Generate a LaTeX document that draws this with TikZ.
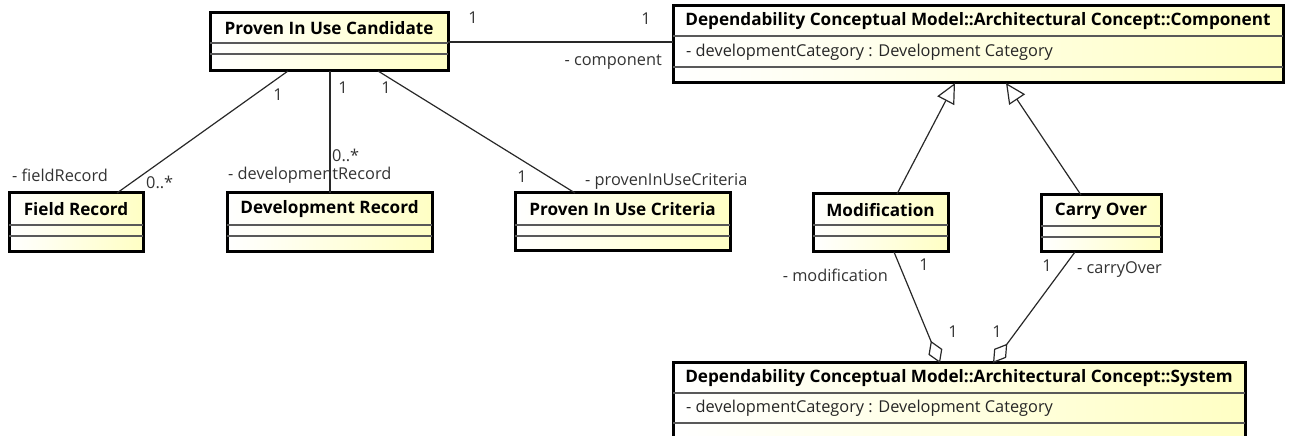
\documentclass[tikz,border=0pt]{standalone}
\usepackage{fontspec}
\setmainfont{Open Sans}
\usetikzlibrary{arrows.meta,calc}

\definecolor{umlyellow}{RGB}{255,255,196}
\definecolor{umlline}{RGB}{40,40,40}
\newcommand{\umltitle}{\fontsize{17.2}{20}\selectfont\bfseries}
\newcommand{\umllabel}{\fontsize{16.4}{19}\selectfont}

\tikzset{
  classbox/.style={draw=black, line width=3bp, left color=white, right color=umlyellow,
    anchor=north west, inner sep=0pt, outer sep=0pt},
  classname/.style={font=\umltitle, text=black, inner sep=0pt},
  attribute/.style={font=\umllabel, text=black!85, anchor=west, inner sep=0pt},
  compartment/.style={draw=black!65, line width=1.5bp},
  assoc/.style={draw=umlline, line width=1.2bp},
  generalize/.style={assoc, -{Triangle[length=20bp, width=19bp, fill=white]}},
  aggregate/.style={assoc, -{Diamond[length=24bp, width=15bp, fill=white]}},
  role/.style={font=\umllabel, text=black!80, inner sep=0pt},
}

\begin{document}
\begin{tikzpicture}[x=1bp, y=-1bp]
  \useasboundingbox (0,0) rectangle (1290,436);

  % classes
  \node[classbox, minimum width=238bp, minimum height=58bp] (candidate) at (210,13) {};
  \node[classbox, minimum width=134bp, minimum height=59bp] (fieldrec) at (9,193) {};
  \node[classbox, minimum width=205bp, minimum height=59bp] (devrec) at (227,193) {};
  \node[classbox, minimum width=215bp, minimum height=58bp] (criteria) at (515,193) {};
  \node[classbox, minimum width=610bp, minimum height=77bp] (component) at (673,6) {};
  \node[classbox, minimum width=135bp, minimum height=58bp] (modification) at (813,194) {};
  \node[classbox, minimum width=120bp, minimum height=57bp] (carryover) at (1041,195) {};
  \node[classbox, minimum width=572bp, minimum height=77bp] (system) at (673,363) {};

  \node[classname] (candidatename) at ($(candidate.north)+(0,15)$) {Proven In Use Candidate};
  \node[classname] (fieldrecname) at ($(fieldrec.north)+(0,16)$) {Field Record};
  \node[classname] (devrecname) at ($(devrec.north)+(0,16)$) {Development Record};
  \node[classname] (criterianame) at ($(criteria.north)+(0,16)$) {Proven In Use Criteria};
  \node[classname] (componentname) at ($(component.north)+(0,15)$) {Dependability Conceptual Model::Architectural Concept::Component};
  \node[classname] (modificationname) at ($(modification.north)+(0,16)$) {Modification};
  \node[classname] (carryovername) at ($(carryover.north)+(0,16)$) {Carry Over};
  \node[classname] (systemname) at ($(system.north)+(0,15)$) {Dependability Conceptual Model::Architectural Concept::System};

  \node[attribute] (componentattr) at ($(component.north west)+(13,46)$) {- developmentCategory : Development Category};
  \node[attribute] (systemattr) at ($(system.north west)+(13,45)$) {- developmentCategory : Development Category};

  \draw[compartment] ($(candidate.north west)+(0,30)$) -- ($(candidate.north east)+(0,30)$);
  \draw[compartment] ($(candidate.north west)+(0,41)$) -- ($(candidate.north east)+(0,41)$);
  \draw[compartment] ($(fieldrec.north west)+(0,32)$) -- ($(fieldrec.north east)+(0,32)$);
  \draw[compartment] ($(fieldrec.north west)+(0,43)$) -- ($(fieldrec.north east)+(0,43)$);
  \draw[compartment] ($(devrec.north west)+(0,32)$) -- ($(devrec.north east)+(0,32)$);
  \draw[compartment] ($(devrec.north west)+(0,43)$) -- ($(devrec.north east)+(0,43)$);
  \draw[compartment] ($(criteria.north west)+(0,32)$) -- ($(criteria.north east)+(0,32)$);
  \draw[compartment] ($(criteria.north west)+(0,43)$) -- ($(criteria.north east)+(0,43)$);
  \draw[compartment] ($(component.north west)+(0,30)$) -- ($(component.north east)+(0,30)$);
  \draw[compartment] ($(component.north west)+(0,61)$) -- ($(component.north east)+(0,61)$);
  \draw[compartment] ($(modification.north west)+(0,31)$) -- ($(modification.north east)+(0,31)$);
  \draw[compartment] ($(modification.north west)+(0,42)$) -- ($(modification.north east)+(0,42)$);
  \draw[compartment] ($(carryover.north west)+(0,31)$) -- ($(carryover.north east)+(0,31)$);
  \draw[compartment] ($(carryover.north west)+(0,42)$) -- ($(carryover.north east)+(0,42)$);
  \draw[compartment] ($(system.north west)+(0,30)$) -- ($(system.north east)+(0,30)$);
  \draw[compartment] ($(system.north west)+(0,60)$) -- ($(system.north east)+(0,60)$);

  % associations
  \draw[assoc] (candidate.east) -- (candidate.east -| component.west);
  \draw[assoc] ([xshift=78bp]candidate.south west) -- ([xshift=108bp]fieldrec.north west);
  \draw[assoc] ([xshift=120bp]candidate.south west) -- ([xshift=120bp]candidate.south west |- devrec.north);
  \draw[assoc] ([xshift=168bp]candidate.south west) -- ([xshift=60bp]criteria.north west);
  \draw[generalize] ([xshift=84bp]modification.north west) -- ([xshift=282bp]component.south west);
  \draw[generalize] ([xshift=40bp]carryover.north west) -- ([xshift=333bp]component.south west);
  \draw[aggregate] ([xshift=81bp]modification.south west) -- ([xshift=267bp]system.north west);
  \draw[aggregate] ([xshift=34bp]carryover.south west) -- ([xshift=320bp]system.north west);

  % roles and multiplicities
  \node[role] (candidatemult) at (473,18) {1};
  \node[role] (componentmult) at (646,19) {1};
  \node[role, anchor=east] (componentrole) at (662,62) {- component};
  \node[role] (fieldrecmultA) at (278,95) {1};
  \node[role, anchor=west] (fieldrecrole) at (12,175) {- fieldRecord};
  \node[role, anchor=west] (fieldrecmultB) at (146,182) {0..*};
  \node[role] (devrecmultA) at (343,88) {1};
  \node[role, anchor=west] (devrecmultB) at (332,155) {0..*};
  \node[role, anchor=west] (devrecrole) at (228,175) {- developmentRecord};
  \node[role] (criteriamultA) at (386,88) {1};
  \node[role] (criteriamultB) at (522,177) {1};
  \node[role, anchor=west] (criteriarole) at (585,181) {- provenInUseCriteria};
  \node[role, anchor=east] (modificationrole) at (888,275) {- modification};
  \node[role] (modificationmultA) at (924,265) {1};
  \node[role] (modificationmultB) at (953,332) {1};
  \node[role] (carryovermultA) at (1047,266) {1};
  \node[role, anchor=west] (carryoverrole) at (1077,270) {- carryOver};
  \node[role] (carryovermultB) at (997,332) {1};
\end{tikzpicture}
\end{document}
